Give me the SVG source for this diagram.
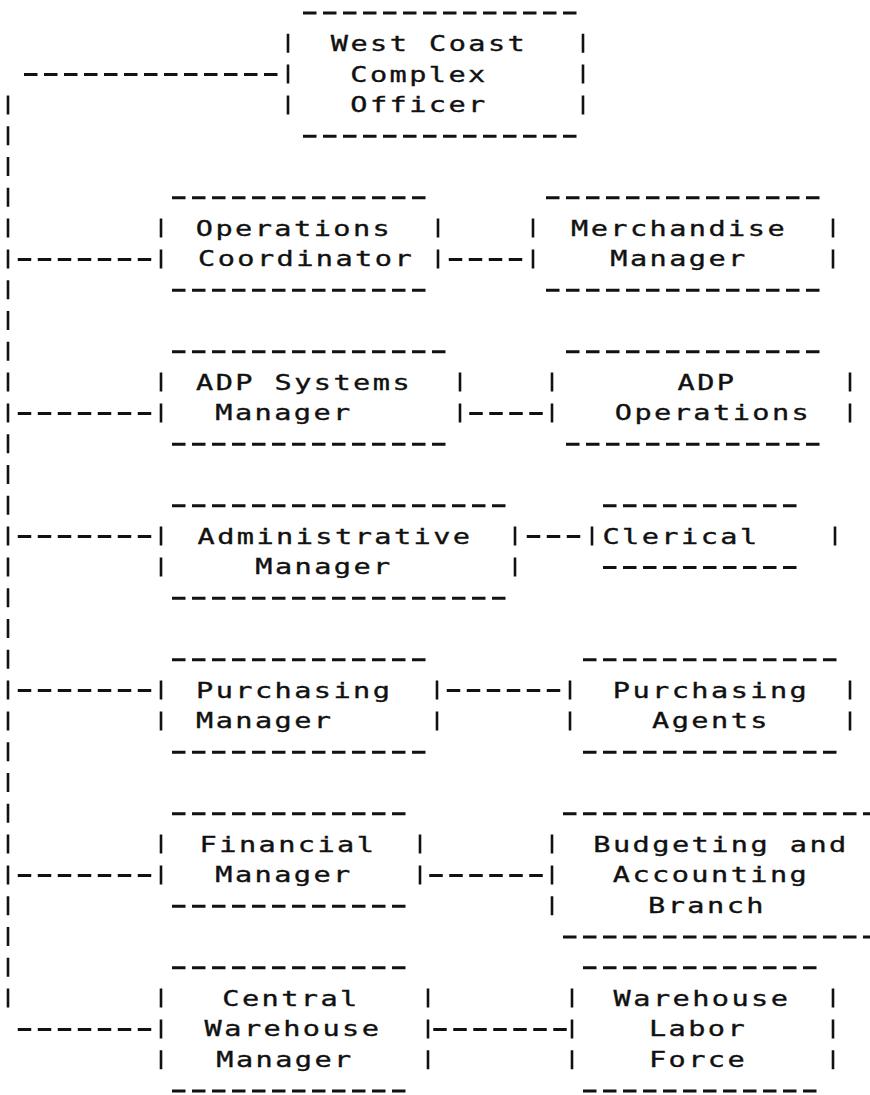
<svg xmlns="http://www.w3.org/2000/svg" width="870" height="1095" viewBox="0 0 870 1095">
<style>
.h{stroke:#111;stroke-width:3;stroke-dasharray:13.5 6.5;fill:none}
.v{stroke:#111;stroke-width:2.6;stroke-dasharray:19 11.8;fill:none}
text{font-family:"DejaVu Sans Mono","Liberation Mono",monospace;font-size:22px;letter-spacing:1.87px;fill:#111;stroke:#111;stroke-width:0.35;text-anchor:middle}
.s{text-anchor:start}
</style>
<rect width="870" height="1095" fill="#fff"/>
<g id="connectors">
<path class="v" d="M8 95.4V1007.6"/>
<path class="h" d="M24 74.6H277.5"/>
<path class="h" d="M17.75 259.4H151.25M17.75 413.4H151.25M17.75 536.6H151.25M17.75 690.6H151.25M17.75 875.4H151.25M17.75 1029.4H151.25"/>
<path class="h" d="M448.75 259.4H522.25M469.25 413.4H542.75M526.75 536.6H580.25M446.75 690.6H560.25M429.25 875.4H542.75M433.25 1029.4H566.75"/>
</g>
<g id="n-wc">
<path class="h" d="M303 13H576.5M303 136.2H576.5"/>
<path class="v" d="M288 33.8V114.4M583 33.8V114.4"/>
<text transform="translate(429,50.8) scale(1.3,1)">West Coast</text>
<text transform="translate(419,81.6) scale(1.3,1)">Complex</text>
<text transform="translate(419,112.4) scale(1.3,1)">Officer</text>
</g>
<g id="n-ops">
<path class="h" d="M172 197.8H425.5M172 290.2H425.5"/>
<path class="v" d="M161 218.6V268.4M438 218.6V268.4"/>
<text transform="translate(294,235.6) scale(1.3,1)">Operations</text>
<text transform="translate(306,266.4) scale(1.3,1)">Coordinator</text>
</g>
<g id="n-merch">
<path class="h" d="M546 197.8H819.5M546 290.2H819.5"/>
<path class="v" d="M533 218.6V268.4M833 218.6V268.4"/>
<text transform="translate(679,235.6) scale(1.3,1)">Merchandise</text>
<text transform="translate(679,266.4) scale(1.3,1)">Manager</text>
</g>
<g id="n-adpsys">
<path class="h" d="M172 351.8H445.5M172 444.2H445.5"/>
<path class="v" d="M161 372.6V422.4M460 372.6V422.4"/>
<text transform="translate(304,389.6) scale(1.3,1)">ADP Systems</text>
<text transform="translate(284,420.4) scale(1.3,1)">Manager</text>
</g>
<g id="n-adpops">
<path class="h" d="M566 351.8H819.5M566 444.2H819.5"/>
<path class="v" d="M552 372.6V422.4M850 372.6V422.4"/>
<text transform="translate(707,389.6) scale(1.3,1)">ADP</text>
<text transform="translate(713,420.4) scale(1.3,1)">Operations</text>
</g>
<g id="n-admin">
<path class="h" d="M172 505.8H505.5M172 598.2H505.5"/>
<path class="v" d="M161 526.6V576.4M515 526.6V576.4"/>
<text transform="translate(335,543.6) scale(1.3,1)">Administrative</text>
<text transform="translate(324,574.4) scale(1.3,1)">Manager</text>
</g>
<g id="n-clerical">
<path class="h" d="M603 505.8H796.5M603 567.4H796.5"/>
<path class="v" d="M592 526.6V545.6M835 526.6V545.6"/>
<text transform="translate(681,543.6) scale(1.3,1)">Clerical</text>
</g>
<g id="n-purch">
<path class="h" d="M172 659.8H425.5M172 752.2H425.5"/>
<path class="v" d="M161 680.6V730.4M437 680.6V730.4"/>
<text class="s" transform="translate(196,697.6) scale(1.3,1)">Purchasing</text>
<text class="s" transform="translate(196,728.4) scale(1.3,1)">Manager</text>
</g>
<g id="n-pagents">
<path class="h" d="M583 659.8H836.5M583 752.2H836.5"/>
<path class="v" d="M570 680.6V730.4M850 680.6V730.4"/>
<text transform="translate(711,697.6) scale(1.3,1)">Purchasing</text>
<text transform="translate(711,728.4) scale(1.3,1)">Agents</text>
</g>
<g id="n-fin">
<path class="h" d="M172 813.8H405.5M172 906.2H405.5"/>
<path class="v" d="M161 834.6V884.4M420 834.6V884.4"/>
<text transform="translate(288,851.6) scale(1.3,1)">Financial</text>
<text transform="translate(284,882.4) scale(1.3,1)">Manager</text>
</g>
<g id="n-budget">
<path class="h" d="M563 813.8H876.5M563 937H876.5"/>
<path class="v" d="M552 834.6V915.2"/>
<text transform="translate(721,851.6) scale(1.3,1)">Budgeting and</text>
<text transform="translate(711,882.4) scale(1.3,1)">Accounting</text>
<text transform="translate(707,913.2) scale(1.3,1)">Branch</text>
</g>
<g id="n-central">
<path class="h" d="M172 967.8H405.5M172 1091H405.5"/>
<path class="v" d="M161 988.6V1069.2M428 988.6V1069.2"/>
<text transform="translate(291,1005.6) scale(1.3,1)">Central</text>
<text transform="translate(293,1036.4) scale(1.3,1)">Warehouse</text>
<text transform="translate(285,1067.2) scale(1.3,1)">Manager</text>
</g>
<g id="n-wlf">
<path class="h" d="M583 967.8H816.5M583 1091H816.5"/>
<path class="v" d="M572 988.6V1069.2M833 988.6V1069.2"/>
<text transform="translate(702,1005.6) scale(1.3,1)">Warehouse</text>
<text transform="translate(698,1036.4) scale(1.3,1)">Labor</text>
<text transform="translate(698,1067.2) scale(1.3,1)">Force</text>
</g>
</svg>
